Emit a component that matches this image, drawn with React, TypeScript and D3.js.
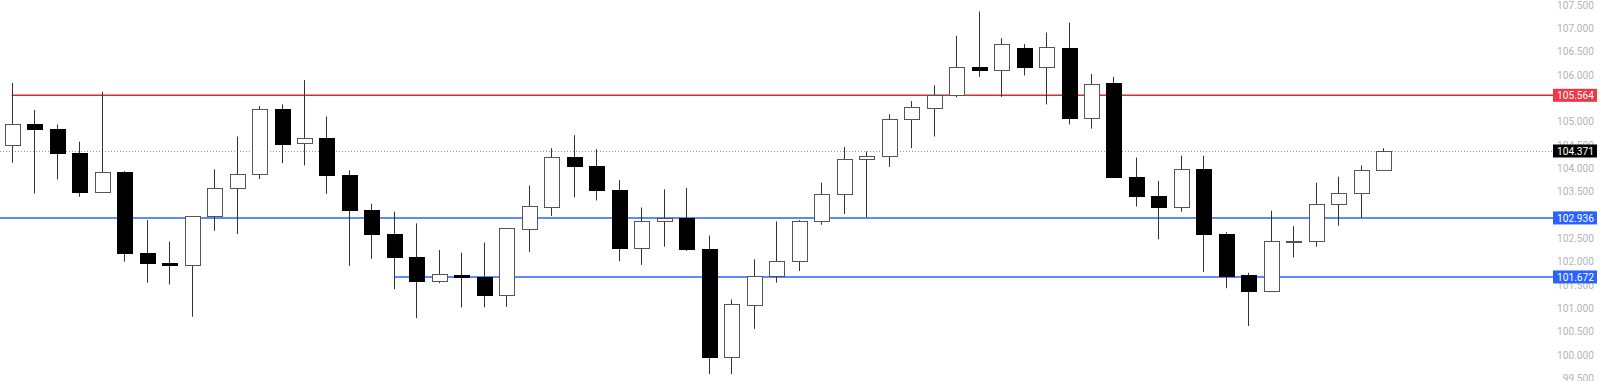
import React from 'react';
import * as d3 from 'd3';

const opens = [104.50, 104.94, 104.84, 104.33, 103.50, 103.91, 102.18, 101.98, 101.93, 102.98,
  103.58, 103.87, 105.26, 104.54, 104.64, 103.86, 103.11, 102.59, 102.10, 101.59,
  101.72, 101.68, 101.28, 102.70, 103.18, 104.24, 104.04, 103.54, 102.30, 102.86,
  102.94, 102.28, 99.96, 101.07, 101.70, 102.01, 102.86, 103.44, 104.19, 104.26,
  105.06, 105.29, 105.57, 106.16, 106.10, 106.57, 106.16, 106.58, 105.07, 105.82,
  103.81, 103.41, 103.18, 103.98, 102.59, 101.71, 101.38, 102.44, 102.44, 103.24,
  103.46, 103.97];
const highs = [105.83, 105.25, 104.94, 104.57, 105.64, 103.94, 102.89, 102.43, 102.98, 103.98,
  104.68, 105.33, 105.37, 105.89, 105.11, 103.96, 103.24, 103.07, 102.82, 102.25,
  102.19, 102.41, 102.71, 103.63, 104.43, 104.71, 104.41, 103.75, 103.16, 103.55,
  103.58, 102.56, 101.19, 102.05, 102.86, 102.89, 103.69, 104.46, 104.36, 105.16,
  105.44, 105.78, 106.84, 107.36, 106.79, 106.66, 106.91, 107.12, 106.02, 105.96,
  104.23, 103.73, 104.27, 104.27, 102.63, 101.76, 103.09, 102.76, 103.69, 103.82,
  104.06, 104.43];
const lows = [104.12, 103.46, 103.76, 103.39, 103.49, 102.00, 101.55, 101.51, 100.82, 102.66,
  102.59, 103.77, 104.11, 104.06, 103.45, 101.91, 102.06, 101.41, 100.79, 101.54,
  101.02, 101.02, 101.03, 102.21, 102.98, 103.38, 103.31, 102.01, 101.93, 102.32,
  102.23, 99.59, 99.59, 100.56, 101.55, 101.80, 102.79, 103.02, 102.95, 104.03,
  104.43, 104.68, 105.52, 105.96, 105.53, 105.99, 105.37, 104.94, 104.85, 103.81,
  103.18, 102.48, 103.07, 101.78, 101.43, 100.62, 101.36, 102.09, 102.32, 102.77,
  102.94, 103.97];
const closes = [104.94, 104.84, 104.33, 103.50, 103.91, 102.18, 101.98, 101.93, 102.98, 103.58,
  103.87, 105.26, 104.52, 104.64, 103.86, 103.11, 102.59, 102.10, 101.59, 101.73,
  101.68, 101.28, 102.71, 103.19, 104.24, 104.04, 103.54, 102.30, 102.86, 102.94,
  102.26, 99.96, 101.09, 101.70, 102.01, 102.87, 103.44, 104.19, 104.27, 105.06,
  105.32, 105.57, 106.16, 106.11, 106.66, 106.16, 106.59, 105.08, 105.81, 103.81,
  103.41, 103.18, 103.98, 102.59, 101.69, 101.38, 102.44, 102.445, 103.24, 103.46,
  103.96, 104.371];

const tickValues = [99.5, 100, 100.5, 101, 101.5, 102, 102.5, 103, 103.5, 104, 104.5, 105, 105.5, 106, 106.5, 107, 107.5];
const levelValues = [105.564, 102.936, 101.672];
const levelStartIndex = [0, -1, 17];
const levelLineColors = ['#d32f2f', '#2962ff', '#2962ff'];
const levelBoxColors = ['#f23645', '#2962ff', '#2962ff'];
const lastPrice = 104.371;

const W = 1600;
const H = 381;
const PLOT_RIGHT = 1553;

export default function App() {
  const x = d3.scaleLinear().domain([0, opens.length - 1]).range([11.7, 1383.3]);
  const y = d3.scaleLinear().domain([99.5, 107.5]).range([378.3, 4.96]);
  const fmt = d3.format('.3f');
  const bw = 16;
  const crisp = (v: number) => Math.round(v) + 0.5;

  return (
    <svg width={W} height={H} style={{ position: 'absolute', left: 0, top: 0, background: '#fff' }}
      fontFamily="Roboto, 'Noto Sans', sans-serif">
      {/* tick labels */}
      {tickValues.map((t) => (
        <text key={t} x={1594} y={y(t)} dy="0.35em" textAnchor="end" fontSize={10.2} fill="#b2b5be">
          {fmt(t)}
        </text>
      ))}
      {/* last price dotted line */}
      <line x1={0} x2={PLOT_RIGHT} y1={crisp(y(lastPrice))} y2={crisp(y(lastPrice))}
        stroke="#9598a1" strokeWidth={1} strokeDasharray="1 2" />
      {/* level lines */}
      {levelValues.map((v, i) => (
        <line key={v} x1={levelStartIndex[i] < 0 ? 0 : x(levelStartIndex[i])} x2={PLOT_RIGHT}
          y1={y(v)} y2={y(v)} stroke={levelLineColors[i]} strokeWidth={1.4} />
      ))}
      {/* candles */}
      {opens.map((o, i) => {
        const c = closes[i];
        const up = c >= o;
        const cx = crisp(x(i));
        const top = y(Math.max(o, c));
        const bot = y(Math.min(o, c));
        const left = Math.round(cx - bw / 2);
        return (
          <g key={i}>
            <line x1={cx} x2={cx} y1={y(highs[i])} y2={y(lows[i])} stroke="#333" strokeWidth={1} />
            <rect x={left + 0.5} y={Math.round(top) + 0.5} width={bw - 1}
              height={Math.max(Math.round(bot) - Math.round(top), 1)}
              fill={up ? '#fff' : '#000'} stroke={up ? '#555' : '#000'} strokeWidth={1} />
          </g>
        );
      })}
      {/* level price boxes */}
      {levelValues.map((v, i) => (
        <g key={'b' + v}>
          <rect x={1553} y={y(v) - 6.5} width={44} height={13} fill={levelBoxColors[i]} />
          <text x={1594} y={y(v)} dy="0.35em" textAnchor="end" fontSize={10.2} fill="#fff">{fmt(v)}</text>
        </g>
      ))}
      <g>
        <rect x={1553} y={y(lastPrice) - 6.5} width={44} height={13} fill="#000" />
        <text x={1594} y={y(lastPrice)} dy="0.35em" textAnchor="end" fontSize={10.2} fill="#fff">{fmt(lastPrice)}</text>
      </g>
    </svg>
  );
}
